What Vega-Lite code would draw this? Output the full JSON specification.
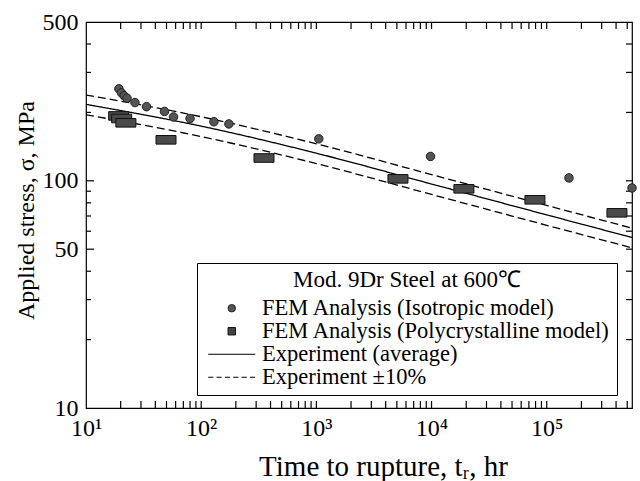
{
  "$schema": "https://vega.github.io/schema/vega-lite/v6.json",
  "width": 546,
  "height": 386,
  "autosize": {"type": "none"},
  "padding": {"left": 86, "top": 22, "right": 8, "bottom": 73},
  "background": "white",
  "config": {
    "view": {"stroke": "black", "strokeWidth": 1.2},
    "font": "Liberation Serif",
    "axis": {"domain": false, "ticks": false, "tickSize": 0, "grid": false}
  },
  "datasets": {
    "fem": [
      {"t": 19.3, "s": 254, "series": "FEM Analysis (Isotropic model)"},
      {"t": 20.3, "s": 244, "series": "FEM Analysis (Isotropic model)"},
      {"t": 21.4, "s": 237, "series": "FEM Analysis (Isotropic model)"},
      {"t": 22.7, "s": 231, "series": "FEM Analysis (Isotropic model)"},
      {"t": 26.6, "s": 221, "series": "FEM Analysis (Isotropic model)"},
      {"t": 33.5, "s": 212, "series": "FEM Analysis (Isotropic model)"},
      {"t": 48, "s": 202, "series": "FEM Analysis (Isotropic model)"},
      {"t": 57.5, "s": 191, "series": "FEM Analysis (Isotropic model)"},
      {"t": 80, "s": 188, "series": "FEM Analysis (Isotropic model)"},
      {"t": 129, "s": 182, "series": "FEM Analysis (Isotropic model)"},
      {"t": 174, "s": 178, "series": "FEM Analysis (Isotropic model)"},
      {"t": 1050, "s": 153, "series": "FEM Analysis (Isotropic model)"},
      {"t": 9800, "s": 128, "series": "FEM Analysis (Isotropic model)"},
      {"t": 156000, "s": 103, "series": "FEM Analysis (Isotropic model)"},
      {"t": 550000, "s": 93, "series": "FEM Analysis (Isotropic model)"},
      {"t": 19.2, "s": 193, "series": "FEM Analysis (Polycrystalline model)"},
      {"t": 20.4, "s": 188, "series": "FEM Analysis (Polycrystalline model)"},
      {"t": 22.2, "s": 180, "series": "FEM Analysis (Polycrystalline model)"},
      {"t": 49.5, "s": 151.5, "series": "FEM Analysis (Polycrystalline model)"},
      {"t": 351, "s": 126, "series": "FEM Analysis (Polycrystalline model)"},
      {"t": 5110, "s": 102, "series": "FEM Analysis (Polycrystalline model)"},
      {"t": 19100, "s": 92.2, "series": "FEM Analysis (Polycrystalline model)"},
      {"t": 79000, "s": 82.5, "series": "FEM Analysis (Polycrystalline model)"},
      {"t": 407000, "s": 72.3, "series": "FEM Analysis (Polycrystalline model)"}
    ],
    "exp": [
      {"t": 10, "s": 217, "series": "average"},
      {"t": 100, "s": 174, "series": "average"},
      {"t": 1000, "s": 132.3, "series": "average"},
      {"t": 10000, "s": 96.8, "series": "average"},
      {"t": 100000, "s": 70.8, "series": "average"},
      {"t": 550000, "s": 56.3, "series": "average"},
      {"t": 10, "s": 238.7, "series": "plus10"},
      {"t": 100, "s": 191.4, "series": "plus10"},
      {"t": 1000, "s": 145.5, "series": "plus10"},
      {"t": 10000, "s": 106.5, "series": "plus10"},
      {"t": 100000, "s": 77.9, "series": "plus10"},
      {"t": 550000, "s": 61.9, "series": "plus10"},
      {"t": 10, "s": 195.3, "series": "minus10"},
      {"t": 100, "s": 156.6, "series": "minus10"},
      {"t": 1000, "s": 119.1, "series": "minus10"},
      {"t": 10000, "s": 87.1, "series": "minus10"},
      {"t": 100000, "s": 63.7, "series": "minus10"},
      {"t": 550000, "s": 50.7, "series": "minus10"}
    ],
    "tickBottom": [
      {"t": 20, "s": 10}, {"t": 30, "s": 10}, {"t": 40, "s": 10}, {"t": 50, "s": 10}, {"t": 60, "s": 10}, {"t": 70, "s": 10}, {"t": 80, "s": 10}, {"t": 90, "s": 10}, {"t": 100, "s": 10},
      {"t": 200, "s": 10}, {"t": 300, "s": 10}, {"t": 400, "s": 10}, {"t": 500, "s": 10}, {"t": 600, "s": 10}, {"t": 700, "s": 10}, {"t": 800, "s": 10}, {"t": 900, "s": 10}, {"t": 1000, "s": 10},
      {"t": 2000, "s": 10}, {"t": 3000, "s": 10}, {"t": 4000, "s": 10}, {"t": 5000, "s": 10}, {"t": 6000, "s": 10}, {"t": 7000, "s": 10}, {"t": 8000, "s": 10}, {"t": 9000, "s": 10}, {"t": 10000, "s": 10},
      {"t": 20000, "s": 10}, {"t": 30000, "s": 10}, {"t": 40000, "s": 10}, {"t": 50000, "s": 10}, {"t": 60000, "s": 10}, {"t": 70000, "s": 10}, {"t": 80000, "s": 10}, {"t": 90000, "s": 10}, {"t": 100000, "s": 10},
      {"t": 200000, "s": 10}, {"t": 300000, "s": 10}, {"t": 400000, "s": 10}, {"t": 500000, "s": 10}
    ],
    "tickTop": [
      {"t": 20, "s": 500}, {"t": 30, "s": 500}, {"t": 40, "s": 500}, {"t": 50, "s": 500}, {"t": 60, "s": 500}, {"t": 70, "s": 500}, {"t": 80, "s": 500}, {"t": 90, "s": 500}, {"t": 100, "s": 500},
      {"t": 200, "s": 500}, {"t": 300, "s": 500}, {"t": 400, "s": 500}, {"t": 500, "s": 500}, {"t": 600, "s": 500}, {"t": 700, "s": 500}, {"t": 800, "s": 500}, {"t": 900, "s": 500}, {"t": 1000, "s": 500},
      {"t": 2000, "s": 500}, {"t": 3000, "s": 500}, {"t": 4000, "s": 500}, {"t": 5000, "s": 500}, {"t": 6000, "s": 500}, {"t": 7000, "s": 500}, {"t": 8000, "s": 500}, {"t": 9000, "s": 500}, {"t": 10000, "s": 500},
      {"t": 20000, "s": 500}, {"t": 30000, "s": 500}, {"t": 40000, "s": 500}, {"t": 50000, "s": 500}, {"t": 60000, "s": 500}, {"t": 70000, "s": 500}, {"t": 80000, "s": 500}, {"t": 90000, "s": 500}, {"t": 100000, "s": 500},
      {"t": 200000, "s": 500}, {"t": 300000, "s": 500}, {"t": 400000, "s": 500}, {"t": 500000, "s": 500}
    ],
    "tickLeft": [
      {"t": 10, "s": 20}, {"t": 10, "s": 30}, {"t": 10, "s": 40}, {"t": 10, "s": 50}, {"t": 10, "s": 60}, {"t": 10, "s": 70}, {"t": 10, "s": 80}, {"t": 10, "s": 90}, {"t": 10, "s": 100},
      {"t": 10, "s": 200}, {"t": 10, "s": 300}, {"t": 10, "s": 400}
    ],
    "tickRight": [
      {"t": 550000, "s": 20}, {"t": 550000, "s": 30}, {"t": 550000, "s": 40}, {"t": 550000, "s": 50}, {"t": 550000, "s": 60}, {"t": 550000, "s": 70}, {"t": 550000, "s": 80}, {"t": 550000, "s": 90}, {"t": 550000, "s": 100},
      {"t": 550000, "s": 200}, {"t": 550000, "s": 300}, {"t": 550000, "s": 400}
    ]
  },
  "resolve": {"axis": {"x": "independent", "y": "independent"}},
  "layer": [
    {
      "data": {"name": "exp"},
      "mark": {"type": "line", "interpolate": "monotone", "color": "black", "strokeWidth": 1.3, "clip": true},
      "encoding": {
        "x": {
          "field": "t", "type": "quantitative",
          "scale": {"type": "log", "domain": [10, 550000], "nice": false},
          "axis": {
            "orient": "bottom",
            "values": [10, 100, 1000, 10000, 100000],
            "labelExpr": "datum.value == 10 ? '10¹' : datum.value == 100 ? '10²' : datum.value == 1000 ? '10³' : datum.value == 10000 ? '10⁴' : datum.value == 100000 ? '10⁵' : ''",
            "labelFont": "Liberation Serif", "labelFontSize": 24, "labelColor": "black",
            "labelBaseline": "alphabetic", "labelPadding": 27, "labelFlush": false, "labelOverlap": false, "labelDx": 4,
            "title": "Time to rupture, tᵣ, hr",
            "titleFont": "Liberation Serif", "titleFontSize": 29, "titleFontWeight": "normal", "titleColor": "black",
            "titleX": 297, "titleY": 67, "titleBaseline": "alphabetic"
          }
        },
        "y": {
          "field": "s", "type": "quantitative",
          "scale": {"type": "log", "domain": [10, 500], "nice": false},
          "axis": {
            "orient": "left",
            "values": [10, 50, 100, 500],
            "format": "d",
            "labelFont": "Liberation Serif", "labelFontSize": 24, "labelColor": "black",
            "labelBaseline": "middle", "labelPadding": 8, "labelFlush": false, "labelOverlap": false,
            "title": "Applied stress, σ, MPa",
            "titleFont": "Liberation Serif", "titleFontSize": 24, "titleFontWeight": "normal", "titleColor": "black",
            "titleX": -53, "titleY": 188, "titleBaseline": "alphabetic", "titleAngle": 270
          }
        },
        "detail": {"field": "series"},
        "strokeDash": {
          "field": "series", "type": "nominal",
          "scale": {"domain": ["average", "plus10", "minus10"], "range": [[1, 0], [8, 4], [8, 4]]},
          "legend": null
        }
      }
    },
    {
      "data": {"name": "tickBottom"},
      "mark": {"type": "tick", "orient": "vertical", "size": 7, "thickness": 1.2, "color": "black", "opacity": 1, "yOffset": -3.5, "clip": false},
      "encoding": {
        "x": {"field": "t", "type": "quantitative", "axis": null},
        "y": {"field": "s", "type": "quantitative", "axis": null}
      }
    },
    {
      "data": {"name": "tickTop"},
      "mark": {"type": "tick", "orient": "vertical", "size": 7, "thickness": 1.2, "color": "black", "opacity": 1, "yOffset": 3.5, "clip": false},
      "encoding": {
        "x": {"field": "t", "type": "quantitative", "axis": null},
        "y": {"field": "s", "type": "quantitative", "axis": null}
      }
    },
    {
      "data": {"name": "tickLeft"},
      "transform": [{"filter": "datum.s == 50 || datum.s == 100"}],
      "mark": {"type": "tick", "orient": "horizontal", "size": 8, "thickness": 1.2, "color": "black", "opacity": 1, "xOffset": 4, "clip": false},
      "encoding": {
        "x": {"field": "t", "type": "quantitative", "axis": null},
        "y": {"field": "s", "type": "quantitative", "axis": null}
      }
    },
    {
      "data": {"name": "tickLeft"},
      "transform": [{"filter": "datum.s != 50 && datum.s != 100"}],
      "mark": {"type": "tick", "orient": "horizontal", "size": 5, "thickness": 1.2, "color": "black", "opacity": 1, "xOffset": 2.5, "clip": false},
      "encoding": {
        "x": {"field": "t", "type": "quantitative", "axis": null},
        "y": {"field": "s", "type": "quantitative", "axis": null}
      }
    },
    {
      "data": {"name": "tickRight"},
      "mark": {"type": "tick", "orient": "horizontal", "size": 6, "thickness": 1.2, "color": "black", "opacity": 1, "xOffset": -3, "clip": false},
      "encoding": {
        "x": {"field": "t", "type": "quantitative", "axis": null},
        "y": {"field": "s", "type": "quantitative", "axis": null}
      }
    },
    {
      "data": {"name": "fem"},
      "transform": [{"filter": "datum.series == 'FEM Analysis (Polycrystalline model)'"}],
      "mark": {"type": "point", "filled": true, "shape": "M-1,-0.43H1V0.43H-1Z", "size": 400, "fill": "#4a4a4a", "stroke": "#111", "strokeWidth": 1, "opacity": 1},
      "encoding": {
        "x": {"field": "t", "type": "quantitative", "axis": null},
        "y": {"field": "s", "type": "quantitative", "axis": null}
      }
    },
    {
      "data": {"name": "fem"},
      "transform": [{"filter": "datum.series == 'FEM Analysis (Isotropic model)'"}],
      "mark": {"type": "point", "filled": true, "size": 72, "strokeWidth": 1, "opacity": 1},
      "encoding": {
        "x": {"field": "t", "type": "quantitative", "axis": null},
        "y": {"field": "s", "type": "quantitative", "axis": null},
        "shape": {
          "field": "series", "type": "nominal",
          "scale": {
            "domain": ["FEM Analysis (Isotropic model)", "FEM Analysis (Polycrystalline model)", "Experiment (average)", "Experiment ±10%"],
            "range": ["circle", "square", "M-6.35,0H6.35", "M-6.35,0H-4.95M-4.1,0H-2.7M-1.85,0H-0.45M0.4,0H1.8M2.65,0H4.05M4.9,0H6.3"]
          },
          "title": "Mod. 9Dr Steel at 600℃",
          "legend": {
            "orient": "none", "legendX": 111, "legendY": 241,
            "titleFont": "Liberation Serif", "titleFontSize": 23, "titleFontWeight": "normal", "titleColor": "black",
            "titleAnchor": "middle", "titlePadding": 5, "titleLimit": 500,
            "labelFont": "Liberation Serif", "labelFontSize": 22.5, "labelColor": "black", "labelLimit": 500,
            "symbolSize": 55, "symbolStrokeColor": "black", "symbolStrokeWidth": 1,
            "symbolOffset": 17.5, "labelOffset": 19,
            "padding": 6, "rowPadding": 0, "strokeColor": "black", "fillColor": "white"
          }
        },
        "fill": {
          "field": "series", "type": "nominal",
          "scale": {
            "domain": ["FEM Analysis (Isotropic model)", "FEM Analysis (Polycrystalline model)", "Experiment (average)", "Experiment ±10%"],
            "range": ["#555555", "#444444", "transparent", "transparent"]
          },
          "title": "Mod. 9Dr Steel at 600℃"
        },
        "stroke": {
          "field": "series", "type": "nominal",
          "scale": {
            "domain": ["FEM Analysis (Isotropic model)", "FEM Analysis (Polycrystalline model)", "Experiment (average)", "Experiment ±10%"],
            "range": ["#222222", "#111111", "#000000", "#000000"]
          },
          "title": "Mod. 9Dr Steel at 600℃"
        }
      }
    }
  ]
}
